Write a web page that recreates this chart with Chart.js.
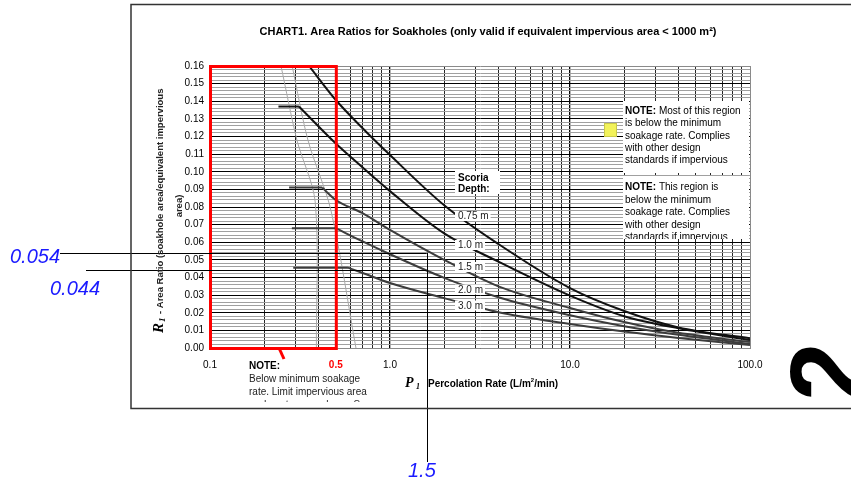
<!DOCTYPE html>
<html>
<head>
<meta charset="utf-8">
<script src="https://cdn.jsdelivr.net/npm/chart.js@4.4.0/dist/chart.umd.min.js"></script>
<style>
    html, body { margin: 0; padding: 0; background: #fff; }
</style>
</head>
<body>
<canvas id="soak-chart" width="851" height="482"></canvas>
<script>
// percolation rate P1 (L/m2/min) where the curves were read
const pRate = [0.5, 0.7, 1, 2, 4, 10, 20, 40, 100];
// area ratio R1 for each scoria depth (null = not on that part of the curve)
const depth075 = [0.1407, 0.125, 0.1095, 0.081, 0.059, 0.034, 0.021, 0.0117, 0.0055];
const depth100 = [0.116, 0.1027, 0.089, 0.065, 0.049, 0.0297, 0.018, 0.0112, 0.0046];
const depth150 = [0.084, 0.0766, 0.067, 0.050, 0.035, 0.0227, 0.0147, 0.0086, 0.0034];
const depth200 = [null, 0.0606, 0.0532, 0.0398, 0.0288, 0.0186, 0.0124, 0.0075, 0.0023];
const depth300 = [null, 0.0427, 0.0369, 0.0283, 0.0203, 0.0136, 0.0093, 0.0057, 0.0017];
const depthLabels = ["0.75 m", "1.0 m", "1.5 m", "2.0 m", "3.0 m"];
// where each curve leaves its flat part (0.75 m comes in from the top)
const startP = [0.355, 0.312, 0.42, 0.5, 0.584];
const startR = [0.16, 0.137, 0.091, 0.068, 0.0456];
const capStart = [null, 0.24, 0.275, 0.285, 0.29];

// faint minimum-soakage boundary lines
const limitAp = [0.248, 0.304, 0.384, 0.39];
const limitAr = [0.16, 0.118, 0.083, 0];
const limitBp = [0.286, 0.35, 0.47, 0.647];
const limitBr = [0.16, 0.118, 0.078, 0];

// axis ticks
const xLabelValues = [0.1, 0.5, 1, 10, 100];
const xLabelTexts = ["0.1", "0.5", "1.0", "10.0", "100.0"];
const yMax = 0.16;

// hand-written reading on the chart
const readRatios = [0.054, 0.044];
const readRate = 1.6;

const xGrid = [];
[0.1, 1, 10].forEach(d => {
    for (let m = 1; m < 10; m++) xGrid.push(+(d * m).toPrecision(3));
});
xGrid.push(100);
const yGrid = [];
for (let i = 0; i <= 80; i++) yGrid.push(+(i * 0.002).toFixed(3));

const isMajorY = v => Math.round(v * 1000) % 10 === 0;
const sameVal = (a, b) => Math.abs(a - b) < 1e-9;

function points(ps, rs) {
    return ps.map((p, i) => ({ x: p, y: rs[i] })).filter(pt => pt.y !== null);
}

const series = [depth075, depth100, depth150, depth200, depth300];
const curveColors = ["#111", "#111", "#3c3c3c", "#3c3c3c", "#3c3c3c"];
const datasets = [];
series.forEach((rs, i) => {
    const pts = [{ x: startP[i], y: startR[i] }]
        .concat(points(pRate, rs).filter(pt => pt.x > startP[i] + 1e-9));
    datasets.push({
        label: depthLabels[i],
        data: pts,
        borderColor: curveColors[i],
        borderWidth: 2,
        pointRadius: 0,
        cubicInterpolationMode: "monotone",
    });
    if (capStart[i] !== null) {
        datasets.push({
            label: depthLabels[i] + " flat",
            data: [{ x: capStart[i], y: startR[i] }, { x: startP[i], y: startR[i] }],
            borderColor: curveColors[i],
            borderWidth: 2,
            pointRadius: 0,
        });
    }
});
[[limitAp, limitAr], [limitBp, limitBr]].forEach(([ps, rs]) => {
    datasets.push({
        label: "limit",
        data: points(ps, rs),
        borderColor: "#a8a8a8",
        borderWidth: 1,
        pointRadius: 0,
        tension: 0.3,
    });
});

const FONT = "'Liberation Sans', Arial, sans-serif";
const SERIF = "'Liberation Serif', 'Times New Roman', serif";

function text(ctx, s, x, y, font, color, align) {
    ctx.font = font;
    ctx.fillStyle = color || "#000";
    ctx.textAlign = align || "left";
    ctx.textBaseline = "alphabetic";
    ctx.fillText(s, x, y);
}

const decor = {
    id: "decor",
    afterDatasetsDraw(chart) {
        const { ctx, chartArea: a, scales } = chart;
        const xs = scales.x, ys = scales.y;
        ctx.save();

        // notes in the upper right
        ctx.fillStyle = "#fff";
        ctx.fillRect(623, 101, 126, 72);
        ctx.fillRect(623, 176, 126, 63);
        const note1 = ["Most of this region", "is below the minimum", "soakage rate. Complies", "with other design", "standards if impervious"];
        text(ctx, "NOTE:", 625, 114, "bold 10px " + FONT);
        ctx.font = "bold 10px " + FONT;
        const nw = ctx.measureText("NOTE: ").width;
        text(ctx, note1[0], 625 + nw, 114, "10px " + FONT);
        for (let i = 1; i < note1.length; i++) text(ctx, note1[i], 625, 114 + i * 12.3, "10px " + FONT);
        ctx.save();
        ctx.beginPath();
        ctx.rect(620, 176, 132, 63);
        ctx.clip();
        const note2 = ["This region is", "below the minimum", "soakage rate. Complies", "with other design", "standards if impervious"];
        text(ctx, "NOTE:", 625, 190, "bold 10px " + FONT);
        text(ctx, note2[0], 625 + nw, 190, "10px " + FONT);
        for (let i = 1; i < note2.length; i++) text(ctx, note2[i], 625, 190 + i * 12.5, "10px " + FONT);
        ctx.restore();

        // yellow marker
        ctx.fillStyle = "#f2f25a";
        ctx.fillRect(604, 123, 13, 14);
        ctx.strokeStyle = "#c9c94a";
        ctx.lineWidth = 1;
        ctx.strokeRect(604.5, 123.5, 12, 13);

        // scoria depth labels
        ctx.fillStyle = "#fff";
        ctx.fillRect(455, 171, 45, 23);
        text(ctx, "Scoria", 458, 180.5, "bold 10px " + FONT);
        text(ctx, "Depth:", 458, 191.5, "bold 10px " + FONT);
        const labelBase = [219, 248, 270, 292.5, 308.5];
        depthLabels.forEach((s, i) => {
            ctx.font = "10px " + FONT;
            const w = ctx.measureText(s).width;
            ctx.fillStyle = "#fff";
            ctx.fillRect(455, labelBase[i] - 8, w + 5, 10);
            text(ctx, s, 458, labelBase[i], "10px " + FONT, "#222");
        });

        // red zone below minimum soakage
        const x0 = xs.getPixelForValue(0.1), x5 = xs.getPixelForValue(0.5);
        ctx.strokeStyle = "#ff0000";
        ctx.lineWidth = 3;
        ctx.strokeRect(x0 + 0.5, a.top + 0.5, x5 - x0, a.bottom - a.top);
        ctx.beginPath();
        ctx.moveTo(279, a.bottom);
        ctx.lineTo(284, a.bottom + 11);
        ctx.stroke();

        // hand-drawn reading lines
        const rx = xs.getPixelForValue(readRate);
        const y1 = ys.getPixelForValue(readRatios[0]);
        const y2 = ys.getPixelForValue(readRatios[1]);
        ctx.strokeStyle = "#000";
        ctx.lineWidth = 1;
        ctx.beginPath();
        ctx.moveTo(60, Math.round(y1) + 0.5);
        ctx.lineTo(rx, Math.round(y1) + 0.5);
        ctx.moveTo(86, Math.round(y2) + 0.5);
        ctx.lineTo(rx, Math.round(y2) + 0.5);
        ctx.moveTo(Math.round(rx) + 0.5, y1);
        ctx.lineTo(Math.round(rx) + 0.5, 462);
        ctx.stroke();
        ctx.restore();
    },
    afterDraw(chart) {
        const { ctx } = chart;
        ctx.save();

        // page frame
        ctx.strokeStyle = "#333";
        ctx.lineWidth = 1.5;
        ctx.beginPath();
        ctx.moveTo(852, 4.5);
        ctx.lineTo(131, 4.5);
        ctx.lineTo(131, 408.5);
        ctx.lineTo(852, 408.5);
        ctx.stroke();

        text(ctx, "CHART1. Area Ratios for Soakholes (only valid if equivalent impervious area < 1000 m\u00b2)", 488, 35, "bold 11px " + FONT, "#000", "center");

        // y title
        ctx.save();
        ctx.translate(163, 333);
        ctx.rotate(-Math.PI / 2);
        text(ctx, "R", 0, 0, "italic bold 15px " + SERIF);
        text(ctx, "1", 11, 2, "italic bold 9px " + SERIF);
        text(ctx, "- Area Ratio (soakhole area/equivalent impervious", 19, 0, "bold 9.5px " + FONT, "#222");
        ctx.restore();
        ctx.save();
        ctx.translate(182, 206);
        ctx.rotate(-Math.PI / 2);
        text(ctx, "area)", 0, 0, "bold 9.5px " + FONT, "#222", "center");
        ctx.restore();

        // x title
        text(ctx, "P", 405, 387, "italic bold 14px " + SERIF);
        text(ctx, "1", 416, 389, "italic bold 8px " + SERIF);
        text(ctx, "Percolation Rate (L/m", 428, 387, "bold 10px " + FONT);
        ctx.font = "bold 10px " + FONT;
        let w = ctx.measureText("Percolation Rate (L/m").width;
        text(ctx, "2", 428 + w, 382, "bold 6px " + FONT);
        text(ctx, "/min)", 428 + w + 3.5, 387, "bold 10px " + FONT);

        // note under the axis, cut by the page
        ctx.save();
        ctx.beginPath();
        ctx.rect(240, 355, 140, 47);
        ctx.clip();
        text(ctx, "NOTE:", 249, 369, "bold 10px " + FONT);
        text(ctx, "Below minimum soakage", 249, 382, "10px " + FONT, "#222");
        text(ctx, "rate. Limit impervious area", 249, 395, "10px " + FONT, "#222");
        text(ctx, "or do not use soakage. See", 249, 408, "10px " + FONT, "#222");
        ctx.restore();

        // written values
        text(ctx, readRatios[0].toFixed(3), 10, 263, "italic 20px " + FONT, "#1a1aff");
        text(ctx, readRatios[1].toFixed(3), 50, 295, "italic 20px " + FONT, "#1a1aff");
        text(ctx, "1.5", 408, 477, "italic 20px " + FONT, "#1a1aff");

        // page number, turned on its side
        ctx.save();
        ctx.beginPath();
        ctx.rect(760, 330, 91, 77);
        ctx.clip();
        ctx.translate(864, 401);
        ctx.rotate(-Math.PI / 2);
        text(ctx, "2", 0, 0, "bold 106px " + FONT);
        ctx.restore();

        ctx.restore();
    },
};

new Chart(document.getElementById("soak-chart"), {
    type: "line",
    data: { datasets: datasets },
    plugins: [decor],
    options: {
        responsive: false,
        animation: false,
        devicePixelRatio: 1,
        layout: { padding: { left: 150, top: 66, right: 101, bottom: 100 } },
        plugins: { legend: { display: false }, tooltip: { enabled: false } },
        scales: {
            x: {
                type: "logarithmic",
                min: 0.1,
                max: 100,
                afterBuildTicks: s => { s.ticks = xGrid.map(v => ({ value: v })); },
                afterFit: s => { s.height = 34; },
                ticks: {
                    autoSkip: false,
                    maxRotation: 0,
                    padding: 11,
                    callback: v => {
                        const i = xLabelValues.findIndex(t => sameVal(t, v));
                        return i < 0 ? "" : xLabelTexts[i];
                    },
                    color: c => (c.tick && sameVal(c.tick.value, 0.5) ? "#ff0000" : "#000"),
                    font: c => (c.tick && sameVal(c.tick.value, 0.5)
                        ? { family: FONT, size: 10, weight: "bold" }
                        : { family: FONT, size: 10 }),
                },
                grid: {
                    drawTicks: false,
                    color: c => {
                        if (!c.tick) return "#262626";
                        if (sameVal(c.tick.value, 100)) return "#8a8a8a";
                        return [1, 10].some(t => sameVal(t, c.tick.value)) ? "#000" : "#262626";
                    },
                    lineWidth: c => (c.tick && [1, 10].some(t => sameVal(t, c.tick.value)) ? 1.3 : 1),
                },
                border: { color: "#8a8a8a" },
            },
            y: {
                min: 0,
                max: yMax,
                afterBuildTicks: s => { s.ticks = yGrid.map(v => ({ value: v })); },
                afterFit: s => { s.width = 60; },
                ticks: {
                    autoSkip: false,
                    padding: 6,
                    color: "#000",
                    font: { family: FONT, size: 10 },
                    callback: v => (isMajorY(v) ? v.toFixed(2) : ""),
                },
                grid: {
                    drawTicks: false,
                    color: c => {
                        if (!c.tick) return "#a0a0a0";
                        if (sameVal(c.tick.value, yMax)) return "#8a8a8a";
                        return isMajorY(c.tick.value) ? "#000" : "#a0a0a0";
                    },
                    lineWidth: 1,
                },
                border: { color: "#000" },
            },
        },
    },
});
</script>
</body>
</html>
